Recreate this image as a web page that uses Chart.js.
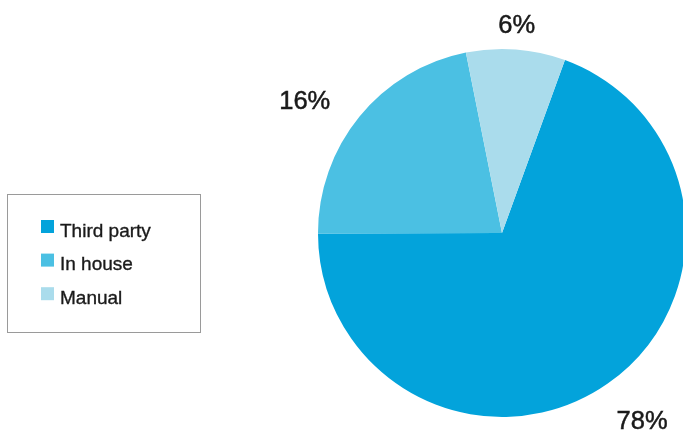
<!DOCTYPE html>
<html>
<head>
<meta charset="utf-8">
<script src="https://cdn.jsdelivr.net/npm/chart.js@4/dist/chart.umd.min.js"></script>
<style>
  html, body { margin: 0; padding: 0; background: #fff; overflow: hidden; width: 683px; height: 435px; }
  #wrap { position: absolute; left: 0; top: 0; width: 700px; height: 435px; }
</style>
</head>
<body>
<div id="wrap"><canvas id="c" width="700" height="435"></canvas></div>
<script>
// Categories and values (drawn slice shares)
const categories = ["Third party", "In house", "Manual"];
const sliceValues = [69.4, 21.9, 8.7];
// Printed percentage labels as shown in the picture
const percentLabels = ["78%", "16%", "6%"];
const sliceColors = ["#03a3db", "#4bc0e3", "#aadcec"];

const labelDistance = [235, 237, 208];
const labelAngleShift = [-1.5, -5.6, -0.3];

const percentPlugin = {
  id: 'percentLabels',
  afterDatasetsDraw(chart) {
    const ctx = chart.ctx;
    const meta = chart.getDatasetMeta(0);
    ctx.save();
    ctx.font = '25.5px "Liberation Sans", Arial, sans-serif';
    ctx.fillStyle = '#1a1a1a';
    ctx.strokeStyle = '#1a1a1a';
    ctx.lineWidth = 0.5;
    ctx.textAlign = 'center';
    ctx.textBaseline = 'middle';
    meta.data.forEach((arc, i) => {
      const p = arc.getProps(['x', 'y', 'startAngle', 'endAngle'], true);
      const mid = (p.startAngle + p.endAngle) / 2 + labelAngleShift[i] * Math.PI / 180;
      const d = labelDistance[i];
      const x = p.x + Math.cos(mid) * d, y = p.y + Math.sin(mid) * d;
      ctx.fillText(percentLabels[i], x, y);
      ctx.strokeText(percentLabels[i], x, y);
    });
    ctx.restore();
  }
};

const legendPlugin = {
  id: 'boxLegend',
  afterDraw(chart) {
    const ctx = chart.ctx;
    const ds = chart.data.datasets[0];
    ctx.save();
    ctx.strokeStyle = '#9a9a9a';
    ctx.lineWidth = 1;
    ctx.strokeRect(7.5, 194.5, 193, 138);
    ctx.font = '19px "Liberation Sans", Arial, sans-serif';
    ctx.textAlign = 'left';
    ctx.textBaseline = 'alphabetic';
    chart.data.labels.forEach((lab, i) => {
      const top = 220 + i * 33.6;
      ctx.fillStyle = ds.backgroundColor[i];
      ctx.fillRect(41, top, 13, 13);
      ctx.fillStyle = '#1a1a1a';
      ctx.strokeStyle = '#1a1a1a';
      ctx.lineWidth = 0.35;
      ctx.fillText(lab, 60, top + 16.5);
      ctx.strokeText(lab, 60, top + 16.5);
    });
    ctx.restore();
  }
};

new Chart(document.getElementById('c'), {
  type: 'pie',
  data: {
    labels: categories,
    datasets: [{
      data: sliceValues,
      backgroundColor: sliceColors,
      borderWidth: 0
    }]
  },
  options: {
    responsive: false,
    devicePixelRatio: 1,
    animation: false,
    rotation: 20,
    layout: { padding: { left: 318, right: 14, top: 49, bottom: 18 } },
    plugins: {
      legend: { display: false },
      tooltip: { enabled: false }
    }
  },
  plugins: [percentPlugin, legendPlugin]
});
</script>
</body>
</html>
